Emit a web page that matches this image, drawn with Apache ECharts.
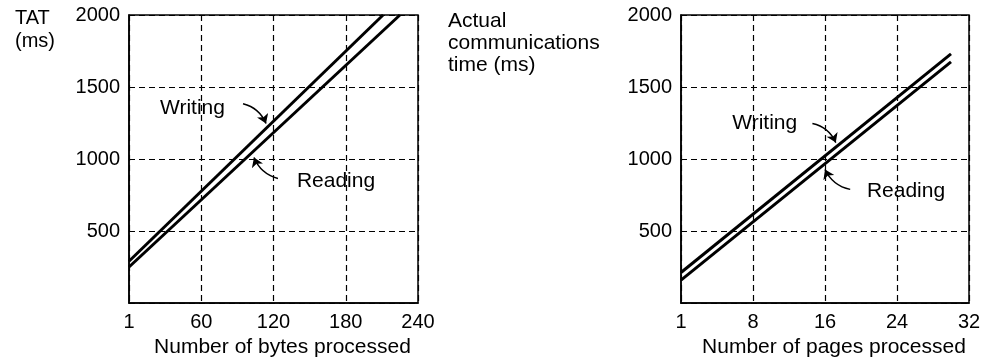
<!DOCTYPE html>
<html>
<head>
<meta charset="utf-8">
<script src="https://cdn.jsdelivr.net/npm/echarts@6/dist/echarts.min.js"></script>
<style>
  html, body { margin: 0; padding: 0; background: #fff; }
  #chart { width: 984px; height: 363px; }
</style>
</head>
<body>
<div id="chart"></div>
<script>
// x = 0 sits under the "1" tick label on both charts
const byteWritingX = [0, 211];
const byteWritingMs = [290, 2000];
const byteReadingX = [0, 225];
const byteReadingMs = [250, 2000];

const pageWritingX = [0, 30];
const pageWritingMs = [212, 1730];
const pageReadingX = [0, 30];
const pageReadingMs = [159, 1675];

const byteTicks = ['1', '60', '120', '180', '240'];
const pageTicks = ['1', '8', '16', '24', '32'];

// callouts, in data units of each chart: text anchor, leader start, arrow tip
const byteCallouts = [
  { text: 'Writing', at: [52.7, 1356], from: [94.7, 1384], to: [113.8, 1246] },
  { text: 'Reading', at: [171.9, 844], from: [123.7, 865], to: [103.8, 1010] },
];
const pageCallouts = [
  { text: 'Writing', at: [9.3, 1246], from: [14.6, 1246], to: [17.2, 1114] },
  { text: 'Reading', at: [25.0, 775], from: [18.8, 789], to: [16.0, 927] },
];

const font = '"Liberation Sans", Arial, Helvetica, sans-serif';
const zip = (xs, ys) => xs.map((x, i) => [x, ys[i]]);

const grids = [
  { left: 129, top: 15, width: 289, height: 289 },
  { left: 681, top: 15, width: 288, height: 289 },
].map((g) => ({ ...g, show: true, borderColor: '#000', borderWidth: 1.5, backgroundColor: 'transparent' }));

const gridLine = { show: true, lineStyle: { color: '#000', width: 1.2, type: [6, 4] } };

const makeX = (index, max, ticks, name) => ({
  type: 'value',
  gridIndex: index,
  min: 0,
  max,
  interval: max / 4,
  axisLine: { show: true, lineStyle: { color: '#000', width: 1.5 } },
  axisTick: { show: false },
  axisLabel: {
    color: '#000',
    fontSize: 20,
    fontFamily: font,
    margin: 9,
    formatter: (v) => ticks[Math.round(v / (max / 4))],
  },
  splitLine: gridLine,
  name,
  nameLocation: 'middle',
  nameGap: 34,
  nameTextStyle: { color: '#000', fontSize: 21, fontFamily: font, padding: [0, 0, 0, 18] },
});

const makeY = (index) => ({
  type: 'value',
  gridIndex: index,
  min: 0,
  max: 2000,
  interval: 500,
  axisLine: { show: true, lineStyle: { color: '#000', width: 1.5 } },
  axisTick: { show: false },
  axisLabel: {
    color: '#000',
    fontSize: 20,
    fontFamily: font,
    margin: 9,
    formatter: (v) => (v === 0 ? '' : `${v}`),
  },
  splitLine: gridLine,
});

const curve = (index, name, xs, ys) => ({
  name,
  type: 'line',
  xAxisIndex: index,
  yAxisIndex: index,
  data: zip(xs, ys),
  showSymbol: false,
  lineStyle: { color: '#000', width: 3 },
  silent: true,
  z: 5,
});

const calloutSeries = (index, callouts) => [
  {
    type: 'lines',
    coordinateSystem: 'cartesian2d',
    xAxisIndex: index,
    yAxisIndex: index,
    symbol: ['none', 'arrow'],
    symbolSize: 9,
    itemStyle: { color: '#000', opacity: 1 },
    lineStyle: { color: '#000', opacity: 1, width: 1.5, curveness: 0.25 },
    data: callouts.map((c) => ({ coords: [c.from, c.to] })),
    silent: true,
    z: 6,
  },
  {
    type: 'scatter',
    xAxisIndex: index,
    yAxisIndex: index,
    symbolSize: 0,
    itemStyle: { opacity: 1 },
    data: callouts.map((c) => ({ value: c.at, name: c.text })),
    label: {
      show: true,
      position: 'inside',
      formatter: '{b}',
      color: '#000',
      opacity: 1,
      fontSize: 21,
      fontFamily: font,
    },
    silent: true,
    z: 6,
  },
];

const chart = echarts.init(document.getElementById('chart'));
chart.setOption({
  animation: false,
  backgroundColor: '#fff',
  grid: grids,
  xAxis: [
    makeX(0, 240, byteTicks, 'Number of bytes processed'),
    makeX(1, 32, pageTicks, 'Number of pages processed'),
  ],
  yAxis: [makeY(0), makeY(1)],
  series: [
    curve(0, 'Writing', byteWritingX, byteWritingMs),
    curve(0, 'Reading', byteReadingX, byteReadingMs),
    curve(1, 'Writing', pageWritingX, pageWritingMs),
    curve(1, 'Reading', pageReadingX, pageReadingMs),
    ...calloutSeries(0, byteCallouts),
    ...calloutSeries(1, pageCallouts),
  ],
  graphic: [
    {
      type: 'text',
      left: 15,
      top: 7,
      style: { text: 'TAT\n(ms)', fill: '#000', font: `20px ${font}`, lineHeight: 23 },
    },
    {
      type: 'text',
      left: 448,
      top: 10,
      style: { text: 'Actual\ncommunications\ntime (ms)', fill: '#000', font: `21px ${font}`, lineHeight: 22 },
    },
  ],
});
</script>
</body>
</html>
